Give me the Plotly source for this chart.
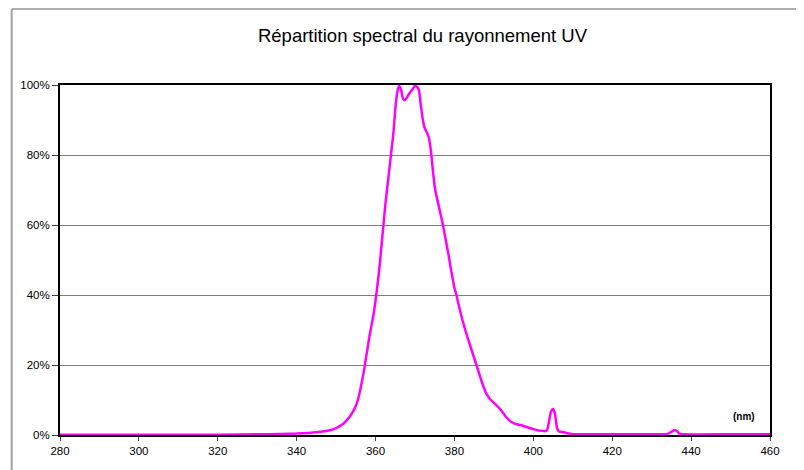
import plotly.graph_objects as go

wavelength_nm = [280, 290, 300, 310, 320, 330, 336, 340, 343, 345, 347, 349, 350, 351, 352, 353, 354, 355, 355.5, 356, 356.5,
                 357, 357.5, 358, 358.5, 359, 359.5, 360, 360.5, 361, 361.5, 362, 362.5, 363, 363.5, 364, 364.5, 365, 365.5,
                 366, 366.5, 367, 367.5, 368, 368.5, 369, 369.5, 370, 370.5, 371, 371.5, 372, 372.5, 373, 373.5, 374, 374.5,
                 375, 375.5, 376, 376.5, 377, 377.5, 378, 378.5, 379, 379.5, 380, 380.5, 381, 382, 383, 384, 385, 386, 387, 388, 389,
                 390, 391, 392, 393, 394, 395, 396, 397, 398, 399, 400, 401, 402, 403, 403.5, 404, 404.5, 405, 405.5, 406,
                 406.5, 407, 408, 409, 410, 420, 430, 434, 435, 435.8, 436.5, 437, 438, 450, 460]
intensity_pct = [0.1, 0.1, 0.1, 0.1, 0.1, 0.2, 0.3, 0.4, 0.6, 0.8, 1.1, 1.5, 2.0, 2.6, 3.4, 4.6, 6.2, 8.3, 10.0, 12.3, 15.0,
                 18.0, 21.5, 25, 28.5, 31.5, 34.5, 38.5, 43, 48, 54, 60, 66, 71, 76, 81, 86, 93, 98,
                 99.8, 98.5, 96, 95.7, 96.5, 97.5, 98.2, 99, 99.8, 99.5, 98.5, 94, 90, 87.6, 86.5, 85, 81.5, 76,
                 71, 68, 65.5, 63, 60.5, 57.5, 54.5, 51.5, 48, 45, 42, 40, 37.5, 33, 29, 25.5, 22, 18.5, 15, 12, 10.3,
                 9.2, 8.1, 6.8, 5.3, 4.1, 3.4, 3.0, 2.8, 2.4, 2.0, 1.7, 1.4, 1.2, 1.1, 1.5, 4.0, 6.8, 7.4, 6.0, 2.0,
                 1.0, 0.9, 0.7, 0.4, 0.3, 0.2, 0.2, 0.3, 0.9, 1.4, 1.0, 0.4, 0.2, 0.2, 0.2]

x_ticks = [280, 300, 320, 340, 360, 380, 400, 420, 440, 460]
y_ticks = [0, 20, 40, 60, 80, 100]
y_tick_labels = ["0%", "20%", "40%", "60%", "80%", "100%"]

title_text = "Répartition spectral du rayonnement UV"
unit_label = "<b>(nm)</b>"

fig = go.Figure()
fig.add_trace(go.Scatter(
    x=wavelength_nm, y=intensity_pct, mode="lines",
    line=dict(color="#FF00FF", width=2.5, shape="spline", smoothing=0.5),
    showlegend=False, hoverinfo="x+y"))

font_family = "Liberation Sans, Arial, sans-serif"

W, H = 796, 462
L, R, T, B = 49, 34, 77, 35
plot_w = W - L - R
plot_h = H - T - B

fig.update_layout(
    width=W, height=H,
    margin=dict(l=L, r=R, t=T, b=B),
    paper_bgcolor="white", plot_bgcolor="white",
    font=dict(family=font_family, color="black", size=11),
    title=dict(text=title_text, x=414.5 / W, xanchor="center",
               y=1 - 28 / H, yanchor="middle",
               font=dict(family=font_family, size=18.5, color="black")),
    xaxis=dict(range=[280, 460], tickvals=x_ticks, ticktext=[str(v) for v in x_ticks],
               showgrid=False, zeroline=False, showline=True, linecolor="black", linewidth=2,
               mirror=True, ticks="outside", ticklen=4, tickcolor="#444", tickwidth=1,
               tickfont=dict(size=11.5, color="black")),
    yaxis=dict(range=[0, 100], tickvals=y_ticks, ticktext=y_tick_labels,
               showgrid=True, gridcolor="#808080", gridwidth=1, zeroline=False,
               showline=True, linecolor="black", linewidth=2, mirror=True,
               ticks="outside", ticklen=6, tickcolor="#444", tickwidth=1,
               tickfont=dict(size=11.5, color="black")),
    annotations=[dict(text=unit_label, xref="paper", yref="paper",
                      x=(744 - 57) / 713, y=(435 - 416) / 350,
                      xanchor="center", yanchor="middle", showarrow=False,
                      font=dict(size=10, color="black", family=font_family))],
    shapes=[
        dict(type="line", xref="paper", yref="paper",
             x0=(0.5 - L) / plot_w, x1=(W + 5 - L) / plot_w,
             y0=(T + plot_h - 1) / plot_h, y1=(T + plot_h - 1) / plot_h,
             line=dict(color="#606060", width=1.2)),
        dict(type="line", xref="paper", yref="paper",
             x0=(0.5 - L) / plot_w, x1=(0.5 - L) / plot_w,
             y0=(T + plot_h - 1) / plot_h, y1=(T + plot_h - H - 5) / plot_h,
             line=dict(color="#a0a0a0", width=2)),
    ],
)

fig.write_html("out.html")
